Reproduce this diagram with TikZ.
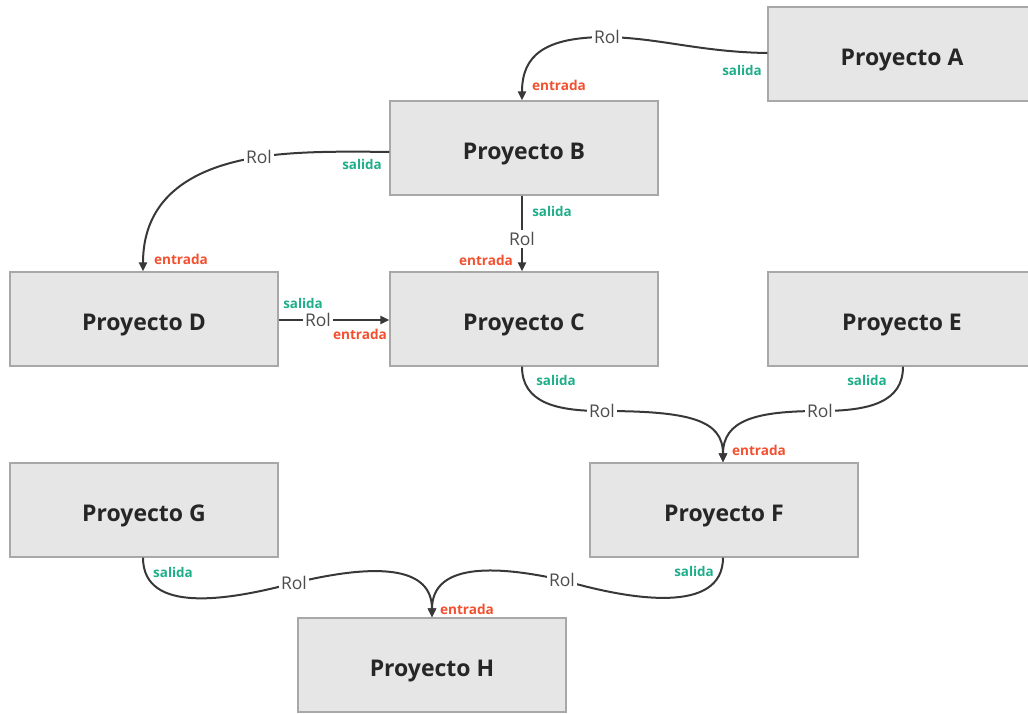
\documentclass[tikz,border=0pt]{standalone}
\usepackage{fontspec}
\setmainfont{Open Sans}
\usetikzlibrary{arrows.meta}
\definecolor{boxfill}{HTML}{E6E6E6}
\definecolor{boxline}{HTML}{A8A8A8}
\definecolor{linkcol}{HTML}{383838}
\definecolor{outcol}{HTML}{1EAE8A}
\definecolor{incol}{HTML}{F2502F}
\tikzset{
  proj/.style={draw=boxline, line width=1.2pt, fill=boxfill, minimum width=268pt, minimum height=94pt,
    inner sep=0pt, text height=22pt, text depth=0pt,
    font=\fontsize{23}{27}\selectfont\bfseries, text=black!85},
  link/.style={draw=linkcol, line width=2pt},
  arr/.style={link, -{Triangle[length=9pt,width=8pt]}},
  rol/.style={fill=white, inner sep=2pt, font=\fontsize{17.5}{21}\selectfont, text=black!70},
  outlbl/.style={font=\fontsize{13.4}{16}\selectfont\bfseries, text=outcol, inner sep=0pt},
  inlbl/.style={font=\fontsize{13.6}{16}\selectfont\bfseries, text=incol, inner sep=0pt},
}
\begin{document}
\begin{tikzpicture}[x=1pt,y=-1pt]
\useasboundingbox (0,0) rectangle (1028,713);
% project boxes
\node[proj] (A) at (902,54) {Proyecto A};
\node[proj] (B) at (524,148) {Proyecto B};
\node[proj] (C) at (524,319) {Proyecto C};
\node[proj] (D) at (144,319) {Proyecto D};
\node[proj] (E) at (902,319) {Proyecto E};
\node[proj] (F) at (724,510) {Proyecto F};
\node[proj] (G) at (144,510) {Proyecto G};
\node[proj] (H) at (432,665) {Proyecto H};
% A -> B
\coordinate (ab) at (607,37);
\draw[link] (A.west |- 0,53) .. controls (700,52) and (660,38) .. (ab);
\draw[arr] (ab) .. controls (545,37) and (522,55) .. (B.north -| 522,0);
\node[rol] at (ab) {Rol};
\node[outlbl] at (742,70) {salida};
\node[inlbl] at (559,85) {entrada};
% B -> D
\coordinate (bd) at (259,157);
\draw[link] (B.west |- 0,152) .. controls (330,151) and (290,152) .. (bd);
\draw[arr] (bd) .. controls (175,170) and (143,210) .. (D.north -| 143,0);
\node[rol] at (bd) {Rol};
\node[outlbl] at (362,164) {salida};
\node[inlbl] at (181,259) {entrada};
% B -> C
\coordinate (bc) at (522,239);
\draw[arr] (B.south -| 522,0) -- (C.north -| 522,0);
\node[rol] at (bc) {Rol};
\node[outlbl] at (552,211) {salida};
\node[inlbl] at (486,260) {entrada};
% D -> C
\coordinate (dc) at (318,320);
\draw[arr] (D.east |- 0,320) -- (C.west |- 0,320);
\node[rol] at (dc) {Rol};
\node[outlbl] at (303,303) {salida};
\node[inlbl] at (360,334) {entrada};
% C -> F
\coordinate (cf) at (602,411);
\draw[link] (C.south -| 522,0) .. controls (522,402) and (555,411) .. (cf);
\draw[arr] (cf) .. controls (690,411) and (723,420) .. (F.north -| 723,0);
\node[rol] at (cf) {Rol};
\node[outlbl] at (556,380) {salida};
% E -> F
\coordinate (ef) at (820,411);
\draw[link] (E.south -| 903,0) .. controls (903,402) and (870,411) .. (ef);
\draw[arr] (ef) .. controls (756,411) and (723,420) .. (F.north -| 723,0);
\node[rol] at (ef) {Rol};
\node[outlbl] at (867,380) {salida};
\node[inlbl] at (759,450) {entrada};
% G -> H
\coordinate (gh) at (294,583);
\draw[link] (G.south -| 143,0) .. controls (143,615) and (230,600) .. (gh);
\draw[arr] (gh) .. controls (360,567) and (432,560) .. (H.north -| 432,0);
\node[rol] at (gh) {Rol};
\node[outlbl] at (173,572) {salida};
% F -> H
\coordinate (fh) at (562,580);
\draw[link] (F.south -| 723,0) .. controls (723,615) and (630,600) .. (fh);
\draw[arr] (fh) .. controls (504,567) and (432,560) .. (H.north -| 432,0);
\node[rol] at (fh) {Rol};
\node[outlbl] at (694,571) {salida};
\node[inlbl] at (467,609) {entrada};
\end{tikzpicture}
\end{document}
